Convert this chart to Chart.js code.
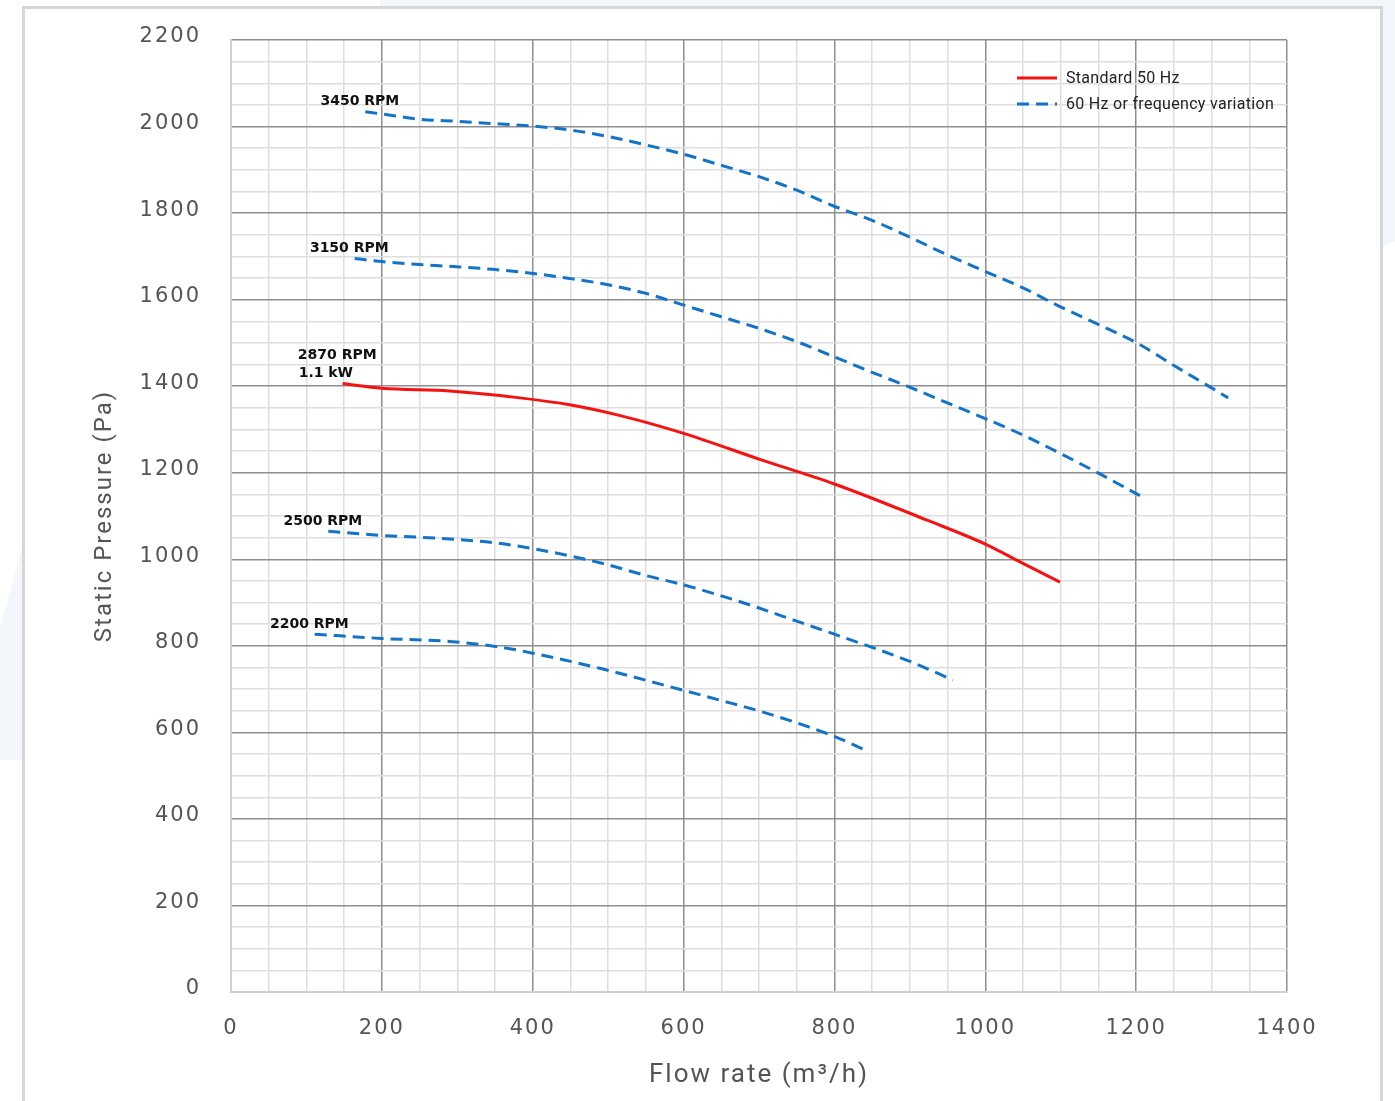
<!DOCTYPE html>
<html>
<head>
<meta charset="utf-8">
<script src="https://cdn.jsdelivr.net/npm/chart.js@4.4.1/dist/chart.umd.min.js"></script>
<style>
  html, body { margin: 0; padding: 0; background: #fff; }
  #bgTop { position: absolute; left: 380px; top: 0; width: 1015px; height: 246px; background: #f2f5f9;
           clip-path: polygon(0 0, 100% 0, 100% 98%, 99% 100%, 0 100%); }
  #bgLeft { position: absolute; left: 0; top: 540px; width: 24px; height: 220px; background: #f3f6fa;
            clip-path: polygon(100% 0, 100% 100%, 0 100%, 0 40%); }
  #frame { position: absolute; left: 22px; top: 6px; width: 1355px; height: 1110px; background: #fff;
           border: 3px solid #d6d6d6; }
  #wrap { position: absolute; left: 0; top: 0; width: 1395px; height: 1101px; }
</style>
</head>
<body>
<div id="bgTop"></div>
<div id="bgLeft"></div>
<div id="frame"></div>
<div id="wrap"><canvas id="myChart" width="1395" height="1101"></canvas></div>
<script>
// flow rate (m3/h) and static pressure (Pa)
const rpm3450Flow = [178, 200, 250, 300, 347, 400, 450, 500, 549, 600, 649, 702, 750, 798, 849, 898, 950, 1000, 1050, 1099, 1152, 1201, 1249, 1300, 1322];
const rpm3450Pa   = [2034, 2029, 2017, 2012, 2007, 2001, 1992, 1977, 1958, 1936, 1911, 1883, 1853, 1817, 1784, 1746, 1703, 1665, 1627, 1584, 1541, 1500, 1449, 1396, 1373];

const rpm3150Flow = [164, 200, 250, 299, 347, 398, 449, 498, 549, 597, 649, 701, 750, 798, 847, 898, 949, 1000, 1050, 1099, 1150, 1205];
const rpm3150Pa   = [1695, 1688, 1681, 1676, 1670, 1661, 1649, 1635, 1615, 1589, 1561, 1533, 1503, 1469, 1434, 1399, 1362, 1325, 1287, 1245, 1199, 1147];

const rpm2870Flow = [148, 200, 290, 383, 449, 516, 600, 701, 800, 922, 1000, 1046, 1099];
const rpm2870Pa   = [1406, 1395, 1389, 1373, 1357, 1332, 1291, 1231, 1174, 1091, 1035, 994, 947];

const rpm2500Flow = [129, 200, 250, 299, 350, 399, 449, 500, 551, 600, 649, 699, 750, 798, 849, 900, 957];
const rpm2500Pa   = [1065, 1055, 1051, 1046, 1038, 1025, 1008, 987, 962, 941, 916, 888, 857, 828, 797, 764, 721];

const rpm2200Flow = [111, 200, 290, 357, 400, 489, 600, 649, 699, 750, 798, 845];
const rpm2200Pa   = [827, 817, 810, 797, 783, 748, 697, 674, 650, 622, 592, 556];

const curveLabels = ['3450 RPM', '3150 RPM', '2870 RPM\n1.1 kW', '2500 RPM', '2200 RPM'];
const legendLabels = ['Standard 50 Hz', '60 Hz or frequency variation'];

const RED = '#f51212';
const BLUE = '#1373c8';
const DASH = [12, 7];

function pts(xs, ys) {
    return xs.map((x, i) => ({ x: x, y: ys[i] }));
}

function curve(label, xs, ys, color, dashed) {
    return {
        label: label,
        data: pts(xs, ys),
        borderColor: color,
        borderWidth: 3,
        borderDash: dashed ? DASH : [],
        pointRadius: 0,
        fill: false,
        cubicInterpolationMode: 'monotone',
    };
}

const datasets = [
    curve(curveLabels[0], rpm3450Flow, rpm3450Pa, BLUE, true),
    curve(curveLabels[1], rpm3150Flow, rpm3150Pa, BLUE, true),
    curve(curveLabels[2], rpm2870Flow, rpm2870Pa, RED, false),
    curve(curveLabels[3], rpm2500Flow, rpm2500Pa, BLUE, true),
    curve(curveLabels[4], rpm2200Flow, rpm2200Pa, BLUE, true),
];

const gridColor = ctx => (ctx.tick && ctx.tick.value !== 0 && ctx.tick.value % 200 === 0) ? '#8e8e8e' : '#dedede';

// wider axis text, as in the original
const spacing = {
    id: 'spacing',
    beforeDraw(chart) { chart.ctx.letterSpacing = '2px'; },
    beforeDatasetsDraw(chart) { chart.ctx.letterSpacing = '0px'; },
};

// curve names next to the start of each curve, and the legend in the top right
const annotate = {
    id: 'annotate',
    afterDatasetsDraw(chart) {
        const ctx = chart.ctx;
        ctx.save();
        ctx.letterSpacing = '0px';
        ctx.fillStyle = '#111';
        ctx.font = 'bold 14px "DejaVu Sans"';
        ctx.textBaseline = 'middle';
        chart.data.datasets.forEach((ds, i) => {
            const p = chart.getDatasetMeta(i).data[0];
            const lines = ds.label.split('\n');
            lines.forEach((t, j) => {
                ctx.textAlign = j === 0 ? 'right' : 'left';
                const x = j === 0 ? p.x + 34 : p.x - 44;
                ctx.fillText(t, x, p.y - 10 - (lines.length - 1 - j) * 18);
            });
        });

        const area = chart.chartArea;
        const lx = area.right - 270;
        const items = [[RED, []], [BLUE, DASH]];
        ctx.font = '16px Roboto';
        ctx.letterSpacing = '0.3px';
        ctx.textAlign = 'left';
        ctx.fillStyle = '#222';
        items.forEach(([color, dash], i) => {
            const y = area.top + 38 + i * 26;
            ctx.strokeStyle = color;
            ctx.lineWidth = 3;
            ctx.setLineDash(dash);
            ctx.beginPath();
            ctx.moveTo(lx, y);
            ctx.lineTo(lx + 40, y);
            ctx.stroke();
            ctx.fillText(legendLabels[i], lx + 49, y + 1);
        });
        ctx.restore();
    }
};

const myChart = new Chart(document.getElementById('myChart').getContext('2d'), {
    type: 'line',
    data: { datasets: datasets },
    options: {
        responsive: false,
        animation: false,
        layout: { padding: { top: 40, right: 108, left: 0, bottom: 0 } },
        plugins: { legend: { display: false }, tooltip: { enabled: false } },
        scales: {
            x: {
                type: 'linear',
                min: 0,
                max: 1400,
                afterFit: s => { s.height = 109; },
                grid: { color: gridColor, lineWidth: 1.5, drawTicks: false },
                border: { color: '#cfcfcf', width: 2 },
                ticks: {
                    stepSize: 50,
                    autoSkip: false,
                    maxRotation: 0,
                    padding: 24,
                    color: '#555',
                    font: { family: 'DejaVu Sans', size: 21 },
                    callback: v => v % 200 === 0 ? String(v) : '',
                },
                title: {
                    display: true,
                    text: 'Flow rate (m³/h)',
                    color: '#555',
                    font: { family: 'Roboto', size: 26 },
                    padding: { bottom: 10 },
                },
            },
            y: {
                min: 0,
                max: 2200,
                afterFit: s => { s.width = 231; s.paddingTop = 0; s.paddingBottom = 0; },
                grid: { color: gridColor, lineWidth: 1.5, drawTicks: false },
                border: { color: '#cfcfcf', width: 2 },
                ticks: {
                    stepSize: 50,
                    autoSkip: false,
                    padding: 30,
                    labelOffset: -3,
                    color: '#555',
                    font: { family: 'DejaVu Sans', size: 21 },
                    callback: v => v % 200 === 0 ? String(v) : '',
                },
                title: {
                    display: true,
                    text: 'Static Pressure (Pa)',
                    color: '#555',
                    font: { family: 'Roboto', size: 24 },
                    padding: { top: 91 },
                },
            },
        },
    },
    plugins: [spacing, annotate],
});
</script>
</body>
</html>
